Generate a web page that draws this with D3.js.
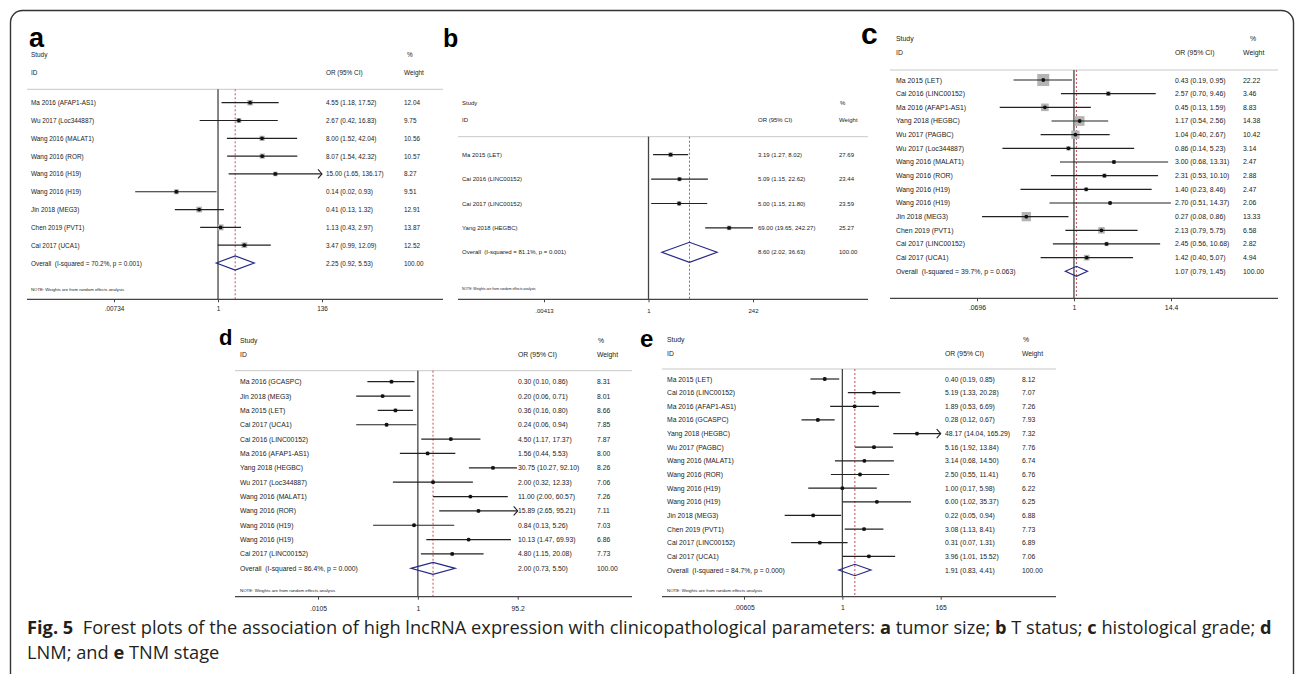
<!DOCTYPE html>
<html>
<head>
<meta charset="utf-8">
<script src="https://cdn.jsdelivr.net/npm/d3@7"></script>
<style>
  body { margin: 0; background: #fff; }
  svg text { font-family: "Liberation Sans", Arial, sans-serif; fill: #222; white-space: pre; }
  .cap text { font-family: "Open Sans", "Noto Sans", sans-serif; fill: #231f20; }
</style>
</head>
<body>
<div id="chart"></div>
<script>
// rows: study, OR, lower, upper, % weight

// a: tumor size
const rowsA = [
  ["Ma 2016 (AFAP1-AS1)", 4.55, 1.18, 17.52, 12.04],
  ["Wu 2017 (Loc344887)", 2.67, 0.42, 16.83, 9.75],
  ["Wang 2016 (MALAT1)", 8.00, 1.52, 42.04, 10.56],
  ["Wang 2016 (ROR)", 8.07, 1.54, 42.32, 10.57],
  ["Wang 2016 (H19)", 15.00, 1.65, 136.17, 8.27],
  ["Wang 2016 (H19)", 0.14, 0.02, 0.93, 9.51],
  ["Jin 2018 (MEG3)", 0.41, 0.13, 1.32, 12.91],
  ["Chen 2019 (PVT1)", 1.13, 0.43, 2.97, 13.87],
  ["Cai 2017 (UCA1)", 3.47, 0.99, 12.09, 12.52]
];
const overallA = [2.25, 0.92, 5.53];
const hetA = "70.2%, p = 0.001";
const ticksA = [".00734", "1", "136"];

// b: T status
const rowsB = [
  ["Ma 2015 (LET)", 3.19, 1.27, 8.02, 27.69],
  ["Cai 2016 (LINC00152)", 5.09, 1.15, 22.62, 23.44],
  ["Cai 2017 (LINC00152)", 5.00, 1.15, 21.80, 23.59],
  ["Yang 2018 (HEGBC)", 69.00, 19.65, 242.27, 25.27]
];
const overallB = [8.60, 2.02, 36.63];
const hetB = "81.1%, p = 0.001";
const ticksB = [".00413", "1", "242"];

// c: histological grade
const rowsC = [
  ["Ma 2015 (LET)", 0.43, 0.19, 0.95, 22.22],
  ["Cai 2016 (LINC00152)", 2.57, 0.70, 9.46, 3.46],
  ["Ma 2016 (AFAP1-AS1)", 0.45, 0.13, 1.59, 8.83],
  ["Yang 2018 (HEGBC)", 1.17, 0.54, 2.56, 14.38],
  ["Wu 2017 (PAGBC)", 1.04, 0.40, 2.67, 10.42],
  ["Wu 2017 (Loc344887)", 0.86, 0.14, 5.23, 3.14],
  ["Wang 2016 (MALAT1)", 3.00, 0.68, 13.31, 2.47],
  ["Wang 2016 (ROR)", 2.31, 0.53, 10.10, 2.88],
  ["Wang 2016 (H19)", 1.40, 0.23, 8.46, 2.47],
  ["Wang 2016 (H19)", 2.70, 0.51, 14.37, 2.06],
  ["Jin 2018 (MEG3)", 0.27, 0.08, 0.86, 13.33],
  ["Chen 2019 (PVT1)", 2.13, 0.79, 5.75, 6.58],
  ["Cai 2017 (LINC00152)", 2.45, 0.56, 10.68, 2.82],
  ["Cai 2017 (UCA1)", 1.42, 0.40, 5.07, 4.94]
];
const overallC = [1.07, 0.79, 1.45];
const hetC = "39.7%, p = 0.063";
const ticksC = [".0696", "1", "14.4"];

// d: LNM
const rowsD = [
  ["Ma 2016 (GCASPC)", 0.30, 0.10, 0.86, 8.31],
  ["Jin 2018 (MEG3)", 0.20, 0.06, 0.71, 8.01],
  ["Ma 2015 (LET)", 0.36, 0.16, 0.80, 8.66],
  ["Cai 2017 (UCA1)", 0.24, 0.06, 0.94, 7.85],
  ["Cai 2016 (LINC00152)", 4.50, 1.17, 17.37, 7.87],
  ["Ma 2016 (AFAP1-AS1)", 1.56, 0.44, 5.53, 8.00],
  ["Yang 2018 (HEGBC)", 30.75, 10.27, 92.10, 8.26],
  ["Wu 2017 (Loc344887)", 2.00, 0.32, 12.33, 7.06],
  ["Wang 2016 (MALAT1)", 11.00, 2.00, 60.57, 7.26],
  ["Wang 2016 (ROR)", 15.89, 2.65, 95.21, 7.11],
  ["Wang 2016 (H19)", 0.84, 0.13, 5.26, 7.03],
  ["Wang 2016 (H19)", 10.13, 1.47, 69.93, 6.86],
  ["Cai 2017 (LINC00152)", 4.80, 1.15, 20.08, 7.73]
];
const overallD = [2.00, 0.73, 5.50];
const hetD = "86.4%, p = 0.000";
const ticksD = [".0105", "1", "95.2"];

// e: TNM stage
const rowsE = [
  ["Ma 2015 (LET)", 0.40, 0.19, 0.85, 8.12],
  ["Cai 2016 (LINC00152)", 5.19, 1.33, 20.28, 7.07],
  ["Ma 2016 (AFAP1-AS1)", 1.89, 0.53, 6.69, 7.26],
  ["Ma 2016 (GCASPC)", 0.28, 0.12, 0.67, 7.93],
  ["Yang 2018 (HEGBC)", 48.17, 14.04, 165.29, 7.32],
  ["Wu 2017 (PAGBC)", 5.16, 1.92, 13.84, 7.76],
  ["Wang 2016 (MALAT1)", 3.14, 0.68, 14.50, 6.74],
  ["Wang 2016 (ROR)", 2.50, 0.55, 11.41, 6.76],
  ["Wang 2016 (H19)", 1.00, 0.17, 5.98, 6.22],
  ["Wang 2016 (H19)", 6.00, 1.02, 35.37, 6.25],
  ["Jin 2018 (MEG3)", 0.22, 0.05, 0.94, 6.88],
  ["Chen 2019 (PVT1)", 3.08, 1.13, 8.41, 7.73],
  ["Cai 2017 (LINC00152)", 0.31, 0.07, 1.31, 6.89],
  ["Cai 2017 (UCA1)", 3.96, 1.01, 15.52, 7.06]
];
const overallE = [1.91, 0.83, 4.41];
const hetE = "84.7%, p = 0.000";
const ticksE = [".00605", "1", "165"];

const W = 1295, H = 674;
const svg = d3.select("#chart").append("svg")
  .attr("width", W).attr("height", H);

// outer frame
svg.append("rect")
  .attr("x", 10.5).attr("y", 10.5)
  .attr("width", 1283).attr("height", 720)
  .attr("rx", 12)
  .attr("fill", "none").attr("stroke", "#333").attr("stroke-width", 1.4);

const panels = [
  { letter: "a", rows: rowsA, overall: overallA, het: hetA, ticks: ticksA,
    x0: 27, x1: 443, lx: 29, ly: 47, lfs: 27,
    studyY: 54.3, idY: 72.3, topY: 89.3, row0: 102.7, rowN: 263,
    noteY: 289.3, axisY: 299.3, tickY: 308.3,
    labelX: 31, orX: 326, wtX: 404, pctX: 407, range: [114, 322],
    fs: 6.4, noteFs: 4.3, boxK: 1.6, dh: 7, arrows: true },
  { letter: "b", rows: rowsB, overall: overallB, het: hetB, ticks: ticksB,
    x0: 458, x1: 868, lx: 443, ly: 47, lfs: 25,
    studyY: 102.7, idY: 120, topY: 136.7, row0: 154.7, rowN: 252.3,
    noteY: 288.7, axisY: 299.3, tickY: 310.7,
    labelX: 462, orX: 758, wtX: 839, pctX: 840, range: [544, 753],
    fs: 6.0, noteFs: 3.4, boxK: 0.9, dh: 10, arrows: false },
  { letter: "c", rows: rowsC, overall: overallC, het: hetC, ticks: ticksC,
    x0: 890, x1: 1278, lx: 861, ly: 44, lfs: 30,
    studyY: 38.3, idY: 52.7, topY: 70, row0: 80, rowN: 271.3,
    noteY: null, axisY: 298.3, tickY: 308,
    labelX: 896, orX: 1175, wtX: 1243, pctX: 1250, range: [977, 1171],
    fs: 6.9, noteFs: 4.3, boxK: 2.55, dh: 5, arrows: true },
  { letter: "d", rows: rowsD, overall: overallD, het: hetD, ticks: ticksD,
    x0: 235, x1: 632, lx: 219, ly: 345, lfs: 22,
    studyY: 340.7, idY: 354.3, topY: 370.7, row0: 381.7, rowN: 568.3,
    noteY: 590.7, axisY: 596.7, tickY: 608.3,
    labelX: 240, orX: 518, wtX: 597, pctX: 598, range: [318, 517.7],
    fs: 6.8, noteFs: 4.4, boxK: 1.3, dh: 6, arrows: true },
  { letter: "e", rows: rowsE, overall: overallE, het: hetE, ticks: ticksE,
    x0: 662, x1: 1056, lx: 640, ly: 347, lfs: 24,
    studyY: 339.7, idY: 353.3, topY: 369, row0: 379, rowN: 570,
    noteY: 590.7, axisY: 596.7, tickY: 608,
    labelX: 667, orX: 945, wtX: 1022, pctX: 1023, range: [744, 940.7],
    fs: 6.8, noteFs: 4.4, boxK: 1.3, dh: 5.7, arrows: true }
];

const fmt = d3.format(".2f");
const ciText = d => fmt(d[0]) + " (" + fmt(d[1]) + ", " + fmt(d[2]) + ")";

function drawPanel(p) {
  const g = svg.append("g");
  const tv = p.ticks.map(Number);
  const x = d3.scaleLog().domain([tv[0], tv[2]]).range(p.range);
  const n = p.rows.length;
  const y = d3.scaleLinear().domain([0, n]).range([p.row0, p.rowN]);
  const xmax = tv[2];

  // panel letter
  g.append("text")
    .attr("x", p.lx).attr("y", p.ly)
    .style("font-size", p.lfs + "px").style("font-weight", "bold")
    .style("fill", "#000")
    .text(p.letter);

  // headers
  const hdr = [
    [p.labelX, p.studyY, "Study"], [p.labelX, p.idY, "ID"],
    [p.orX, p.idY, "OR (95% CI)"], [p.pctX, p.studyY, "%"], [p.wtX, p.idY, "Weight"]
  ];
  g.selectAll("text.hdr").data(hdr).enter().append("text")
    .attr("class", "hdr")
    .attr("x", d => d[0]).attr("y", d => d[1])
    .attr("dominant-baseline", "central")
    .style("font-size", p.fs + "px")
    .text(d => d[2]);

  // header separator
  g.append("line")
    .attr("x1", p.x0).attr("x2", p.x1).attr("y1", p.topY).attr("y2", p.topY)
    .attr("stroke", "#c8c8c8").attr("stroke-width", 1);

  // null line
  g.append("line")
    .attr("x1", x(1)).attr("x2", x(1)).attr("y1", p.topY).attr("y2", p.axisY)
    .attr("stroke", "#444").attr("stroke-width", 1.3);

  // pooled estimate line
  g.append("line")
    .attr("x1", x(p.overall[0])).attr("x2", x(p.overall[0]))
    .attr("y1", p.topY).attr("y2", p.axisY)
    .attr("stroke", "#c0505a").attr("stroke-width", 1)
    .attr("stroke-dasharray", "2,2");

  // study rows
  const row = g.selectAll("g.row").data(p.rows).enter().append("g")
    .attr("class", "row");

  row.append("rect")
    .attr("x", d => x(d[1]) - p.boxK * Math.sqrt(d[4]) / 2)
    .attr("y", (d, i) => y(i) - p.boxK * Math.sqrt(d[4]) / 2)
    .attr("width", d => p.boxK * Math.sqrt(d[4]))
    .attr("height", d => p.boxK * Math.sqrt(d[4]))
    .attr("fill", "#b4b4b4");

  row.append("line")
    .attr("x1", d => x(d[2]))
    .attr("x2", d => x(Math.min(d[3], xmax)))
    .attr("y1", (d, i) => y(i)).attr("y2", (d, i) => y(i))
    .attr("stroke", "#222").attr("stroke-width", 1.2);

  row.filter(d => p.arrows && d[3] > xmax).append("path")
    .attr("d", d => {
      const xa = x(xmax), ya = y(p.rows.indexOf(d));
      return "M" + (xa - 4) + "," + (ya - 4.5) + "L" + xa + "," + ya + "L" + (xa - 4) + "," + (ya + 4.5);
    })
    .attr("fill", "none").attr("stroke", "#222").attr("stroke-width", 1.1);

  row.append("circle")
    .attr("cx", d => x(d[1])).attr("cy", (d, i) => y(i))
    .attr("r", 1.9).attr("fill", "#111");

  row.append("text")
    .attr("x", p.labelX).attr("y", (d, i) => y(i))
    .attr("dominant-baseline", "central").style("font-size", p.fs + "px")
    .text(d => d[0]);
  row.append("text")
    .attr("x", p.orX).attr("y", (d, i) => y(i))
    .attr("dominant-baseline", "central").style("font-size", p.fs + "px")
    .text(d => ciText(d.slice(1, 4)));
  row.append("text")
    .attr("x", p.wtX).attr("y", (d, i) => y(i))
    .attr("dominant-baseline", "central").style("font-size", p.fs + "px")
    .text(d => fmt(d[4]));

  // overall diamond
  const o = p.overall, yo = y(n);
  g.append("path")
    .attr("d", "M" + x(o[1]) + "," + yo + "L" + x(o[0]) + "," + (yo - p.dh) +
      "L" + x(o[2]) + "," + yo + "L" + x(o[0]) + "," + (yo + p.dh) + "Z")
    .attr("fill", "none").attr("stroke", "#26288a").attr("stroke-width", 1.2);
  g.append("text")
    .attr("x", p.labelX).attr("y", yo)
    .attr("dominant-baseline", "central").style("font-size", p.fs + "px")
    .text("Overall  (I-squared = " + p.het + ")");
  g.append("text")
    .attr("x", p.orX).attr("y", yo)
    .attr("dominant-baseline", "central").style("font-size", p.fs + "px")
    .text(ciText(o));
  g.append("text")
    .attr("x", p.wtX).attr("y", yo)
    .attr("dominant-baseline", "central").style("font-size", p.fs + "px")
    .text("100.00");

  if (p.noteY !== null) {
    g.append("text")
      .attr("x", p.labelX).attr("y", p.noteY)
      .attr("dominant-baseline", "central").style("font-size", p.noteFs + "px")
      .text("NOTE: Weights are from random effects analysis");
  }

  // axis
  g.append("line")
    .attr("x1", p.x0).attr("x2", p.x1).attr("y1", p.axisY).attr("y2", p.axisY)
    .attr("stroke", "#444").attr("stroke-width", 1.2);
  const axis = d3.axisBottom(x).tickValues(tv)
    .tickFormat((d, i) => p.ticks[i])
    .tickSize(3).tickPadding(p.tickY - p.axisY - 3 - 0.36 * p.fs);
  const ag = g.append("g").attr("transform", "translate(0," + p.axisY + ")").call(axis);
  ag.select(".domain").remove();
  ag.selectAll(".tick line").attr("stroke", "#444");
  ag.selectAll(".tick text")
    .style("font-family", "'Liberation Sans', Arial, sans-serif")
    .style("font-size", p.fs + "px").style("fill", "#222");
}

panels.forEach(drawPanel);

// caption
const cap = svg.append("g").attr("class", "cap");
const capLines = [
  [["Fig. 5", true], ["  Forest plots of the association of high lncRNA expression with clinicopathological parameters: ", false],
   ["a", true], [" tumor size; ", false], ["b", true], [" T status; ", false],
   ["c", true], [" histological grade; ", false], ["d", true]],
  [["LNM; and ", false], ["e", true], [" TNM stage", false]]
];
const capG = cap.append("g");
const capY = [634, 659];
capLines.forEach((ln, i) => {
  const t = capG.append("text").attr("x", 0).attr("y", capY[i])
    .style("font-size", "18px");
  ln.forEach(s => t.append("tspan")
    .style("font-weight", s[1] ? "bold" : "normal")
    .text(s[0]));
});
// squeeze caption to the column width
const firstW = capG.select("text").node().getComputedTextLength();
const sx = 1246 / firstW;
capG.attr("transform", "translate(27,0) scale(" + sx + ",1)");
</script>
</body>
</html>
